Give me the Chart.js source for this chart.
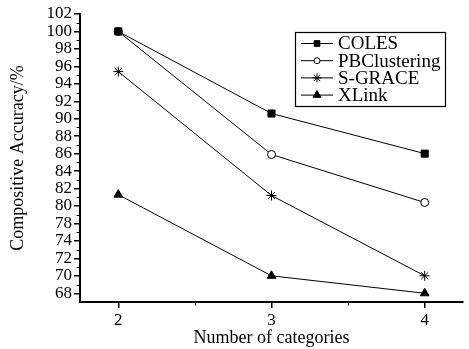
<!DOCTYPE html>
<html><head><meta charset="utf-8">
<script src="https://cdn.jsdelivr.net/npm/chart.js@4.4.0/dist/chart.umd.min.js"></script>
<style>html,body{margin:0;padding:0;background:#fff;} #wrap{width:469px;height:349px;}</style>
</head><body><div id="wrap"><canvas id="c" width="469" height="349"></canvas></div>
<script>
// ---- data ----
const categories = [2, 3, 4];
const yTickLabels = [68, 70, 72, 74, 78, 80, 82, 84, 86, 88, 90, 92, 94, 96, 98, 100, 102];
const coles = [100, 90.6, 86];
const pbclustering = [100, 85.9, 80.4];
const sgrace = [95.4, 81.2, 70];
const xlink = [81.3, 70, 68];
const seriesNames = ['COLES', 'PBClustering', 'S-GRACE', 'XLink'];

// the reference axis places its (unevenly valued) labels at even spacing;
// map a value onto that label-index axis
function toAxis(v) {
  for (let i = 0; i < yTickLabels.length - 1; i++) {
    const a = yTickLabels[i], b = yTickLabels[i + 1];
    if (v >= a && v <= b) return i + (v - a) / (b - a);
  }
  return v < yTickLabels[0] ? 0 : yTickLabels.length - 1;
}
const pts = arr => categories.map((c, i) => ({ x: c, y: toAxis(arr[i]) }));

const styles = [
  { pointStyle: 'rect', radius: 5, fill: '#000', lr: 4 },
  { pointStyle: 'circle', radius: 4, fill: '#fff', lr: 3 },
  { pointStyle: 'star', radius: 5, fill: '#000', lr: 4.5 },
  { pointStyle: 'triangle', radius: 5, fill: '#000', lr: 4.5 }
];
const seriesData = [coles, pbclustering, sgrace, xlink];

const FONT = 'Liberation Serif';

const decor = {
  id: 'decor',
  afterDraw(chart) {
    const ctx = chart.ctx, xs = chart.scales.x, ys = chart.scales.y;
    ctx.save();
    ctx.strokeStyle = '#000';
    ctx.lineWidth = 1;
    ctx.beginPath();
    for (let i = 0; i < yTickLabels.length - 1; i++) {
      const y = Math.round(ys.getPixelForValue(i + 0.5)) + 0.5;
      ctx.moveTo(xs.left - 3.5, y); ctx.lineTo(xs.left, y);
    }
    for (let i = 0; i < categories.length - 1; i++) {
      const x = Math.round(xs.getPixelForValue((categories[i] + categories[i + 1]) / 2)) + 0.5;
      ctx.moveTo(x, ys.bottom); ctx.lineTo(x, ys.bottom + 3.5);
    }
    ctx.stroke();

    // legend box
    ctx.lineWidth = 1.2;
    ctx.strokeRect(295.5, 32.5, 150, 74);
    ctx.font = '19px "' + FONT + '"';
    ctx.textBaseline = 'middle';
    ctx.textAlign = 'left';
    seriesNames.forEach((name, i) => {
      const y = 43.5 + i * 17.2;
      ctx.lineWidth = 1;
      ctx.strokeStyle = '#000';
      ctx.beginPath(); ctx.moveTo(301, y); ctx.lineTo(333, y); ctx.stroke();
      ctx.fillStyle = styles[i].fill;
      Chart.helpers.drawPoint(ctx, { pointStyle: styles[i].pointStyle, radius: styles[i].lr, rotation: 0, borderWidth: 1 }, 317, y);
      ctx.fillStyle = '#000';
      ctx.fillText(name, 338, y + 1);
    });
    ctx.restore();
  }
};

new Chart(document.getElementById('c'), {
  type: 'line',
  data: {
    datasets: seriesData.map((d, i) => ({
      label: seriesNames[i],
      data: pts(d),
      borderColor: '#000',
      borderWidth: 1,
      pointStyle: styles[i].pointStyle,
      pointRadius: styles[i].radius,
      pointBackgroundColor: styles[i].fill,
      pointBorderColor: '#000',
      pointBorderWidth: 1,
      tension: 0,
      clip: false
    }))
  },
  options: {
    responsive: false,
    animation: false,
    devicePixelRatio: 1,
    layout: { padding: { top: 14, right: 0, left: 0, bottom: 0 } },
    plugins: { legend: { display: false }, tooltip: { enabled: false } },
    scales: {
      x: {
        type: 'linear',
        min: 1.75, max: 4.25,
        afterBuildTicks: s => { s.ticks = categories.map(v => ({ value: v })); },
        afterFit: s => { s.height = 47; },
        grid: { drawOnChartArea: false, tickLength: 6, color: '#000', lineWidth: 1.5 },
        border: { color: '#000', width: 2 },
        ticks: { autoSkip: false, maxRotation: 0, color: '#000', font: { family: FONT, size: 17 }, padding: 2, callback: v => String(v) },
        title: { display: true, text: 'Number of categories', color: '#000', font: { family: FONT, size: 18 }, padding: { top: 0, bottom: 0 } }
      },
      y: {
        type: 'linear',
        min: -0.5, max: 16,
        afterBuildTicks: s => { s.ticks = yTickLabels.map((_, i) => ({ value: i })); },
        afterFit: s => { s.width = 80; },
        grid: { drawOnChartArea: false, tickLength: 6, color: '#000', lineWidth: 1.5 },
        border: { color: '#000', width: 2 },
        ticks: { autoSkip: false, color: '#000', font: { family: FONT, size: 17 }, padding: 2, callback: v => String(yTickLabels[v]) },
        title: { display: true, text: 'Compositive Accuracy/%', color: '#000', font: { family: FONT, size: 18 }, padding: { top: 7, bottom: 0 } }
      }
    }
  },
  plugins: [decor]
});
</script>
</body></html>
